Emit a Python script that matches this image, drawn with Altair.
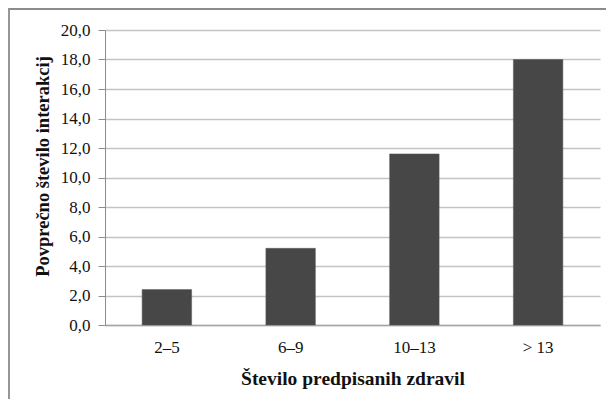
import altair as alt
import pandas as pd

categories = ["2–5", "6–9", "10–13", "> 13"]
values = [2.4, 5.2, 11.6, 18.0]
y_ticks = [0, 2, 4, 6, 8, 10, 12, 14, 16, 18, 20]

df = pd.DataFrame({"cat": categories, "val": values})
FONT = "Liberation Serif"

frame = alt.Chart(pd.DataFrame({"a": [0]})).mark_rect(
    fill=None, stroke="#8c8c8c", strokeWidth=1.8
).encode(
    x=alt.value(-96), x2=alt.value(700), y=alt.value(-21), y2=alt.value(600)
)

bars = alt.Chart(df).mark_bar(color="#474747", stroke="#5a5a5a", strokeWidth=0.5).encode(
    x=alt.X("cat:N", sort=categories,
            scale=alt.Scale(paddingInner=0.6, paddingOuter=0.3),
            axis=alt.Axis(title="Število predpisanih zdravil", labelAngle=0,
                          ticks=False, labelPadding=14, titlePadding=14,
                          titleFontSize=19.5, labelFontSize=17,
                          domainColor="#a6a6a6", domainWidth=1.5)),
    y=alt.Y("val:Q", scale=alt.Scale(domain=[0, 20], nice=False),
            axis=alt.Axis(title="Povprečno število interakcij", values=y_ticks,
                          labelExpr="replace(format(datum.value, '.1f'), '.', ',')",
                          tickSize=7, tickColor="#8c8c8c", labelPadding=8,
                          labelFontSize=17,
                          titleFontSize=18.5, titleX=-53, titleY=136,
                          domainColor="#8c8c8c",
                          gridColor="#c4c4c4", gridWidth=1.3))
)

chart = alt.layer(frame, bars).properties(
    width=495, height=295,
    padding={"left": 97, "top": 22, "right": 6, "bottom": 74},
    autosize=alt.AutoSizeParams(type="none"),
).configure_view(stroke=None).configure_axis(
    labelFont=FONT, titleFont=FONT,
    labelColor="#111111", titleColor="#111111", titleFontWeight="bold",
).configure_axisX(grid=False)

chart.save("out.html", embed_options={"renderer": "svg", "actions": False})
